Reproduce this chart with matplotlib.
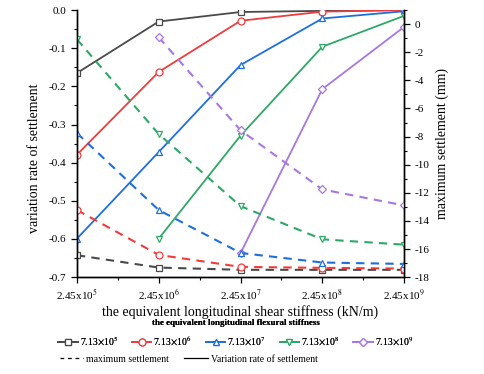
import matplotlib
matplotlib.use("Agg")
import matplotlib.pyplot as plt
from matplotlib.lines import Line2D
from matplotlib.ticker import MultipleLocator
import numpy as np

plt.rcParams['font.family'] = ['Liberation Serif', 'DejaVu Serif']
plt.rcParams['mathtext.fontset'] = 'stix'

x_labels = [r'2.45x10$^5$', r'2.45x10$^6$', r'2.45x10$^7$', r'2.45x10$^8$', r'2.45x10$^9$']
series_labels = [r'7.13$\times$10$^5$', r'7.13$\times$10$^6$', r'7.13$\times$10$^7$',
                 r'7.13$\times$10$^8$', r'7.13$\times$10$^9$']

# variation rate of settlement (left axis); None = no point
rate_713e5 = [-0.165, -0.030, -0.005, -0.002, 0.0]
rate_713e6 = [-0.379, -0.162, -0.028, -0.004, 0.0]
rate_713e7 = [-0.599, -0.372, -0.144, -0.022, -0.003]
rate_713e8 = [None, -0.599, -0.329, -0.096, -0.015]
rate_713e9 = [None, None, -0.637, -0.207, -0.044]

# maximum settlement in mm (right axis)
max_713e5 = [-16.44, -17.32, -17.48, -17.48, -17.48]
max_713e6 = [-13.23, -16.42, -17.27, -17.34, -17.39]
max_713e7 = [-7.75, -13.23, -16.28, -16.96, -17.06]
max_713e8 = [-1.08, -7.82, -12.95, -15.31, -15.69]
max_713e9 = [None, -0.94, -7.55, -11.76, -12.90]

colors = ['#4a4a4a', '#f03c3c', '#1e6fde', '#2ea866', '#a877e0']
markers = ['s', 'o', '^', 'v', 'D']
msizes = [4.5, 5, 5, 5, 4.5]

rates = [rate_713e5, rate_713e6, rate_713e7, rate_713e8, rate_713e9]
maxs = [max_713e5, max_713e6, max_713e7, max_713e8, max_713e9]

fig = plt.figure(figsize=(4.84, 3.74), dpi=100)
ax = fig.add_axes([0.159, 0.259, 0.676, 0.714])
ax2 = ax.twinx()

xi = np.arange(len(x_labels))

def arr(v):
    return np.array([np.nan if a is None else a for a in v], dtype=float)

handles = []
for r, c, m, ms, lab in zip(rates, colors, markers, msizes, series_labels):
    h, = ax.plot(xi, arr(r), color=c, lw=1.3, marker=m, ms=ms, mfc='white',
                 mec=c, mew=0.9, label=lab)
    handles.append(h)

for mx, c, m, ms in zip(maxs, colors, markers, msizes):
    ax2.plot(xi, arr(mx), color=c, lw=1.5, ls=(0, (4, 3)), marker=m, ms=ms,
             mfc='white', mec=c, mew=0.9)

ax.set_xlim(0, 4)
ax.set_ylim(-0.7, 0.0)
ax2.set_ylim(-18, 1)

ax.set_xticks(xi)
ax.set_xticklabels(x_labels, fontsize=8)
ax.xaxis.set_minor_locator(MultipleLocator(0.5))
ax.yaxis.set_major_locator(MultipleLocator(0.1))
ax.yaxis.set_minor_locator(MultipleLocator(0.05))
ax.set_yticklabels([f'{v:.1f}' for v in ax.get_yticks()], fontsize=8)
ax2.yaxis.set_minor_locator(MultipleLocator(1))
ax2.set_yticks(np.arange(-18, 1, 2))
ax2.set_yticklabels([f'{int(v)}' for v in np.arange(-18, 1, 2)], fontsize=8)

for a in (ax, ax2):
    a.spines['top'].set_visible(False)
    a.tick_params(which='major', length=4, width=0.9, direction='out')
    a.tick_params(which='minor', length=2, width=0.8, direction='out')
    for s in a.spines.values():
        s.set_linewidth(1.0)

ax.set_ylabel('variation rate of settlement', fontsize=10)
ax.yaxis.set_label_coords(-0.111, 0.446)
ax2.set_ylabel('maximum settlement (mm)', fontsize=10, labelpad=4)
ax.set_xlabel('the equivalent longitudinal shear stiffness (kN/m)', fontsize=10, labelpad=2)

leg1 = fig.legend(handles=handles, loc='center', bbox_to_anchor=(0.487, 0.109), ncol=5,
                  frameon=False, fontsize=7, handlelength=2.0, handletextpad=0.2,
                  columnspacing=1.45,
                  title='the equivalent longitudinal flexural stiffness',
                  title_fontproperties={'weight': 'bold', 'size': 6.5})
leg1._legend_box.sep = 6

extra = [Line2D([], [], color='black', lw=0.9, ls=(0, (3, 3))),
         Line2D([], [], color='black', lw=0.9)]
leg2 = fig.legend(handles=extra, labels=['maximum settlement', 'Variation rate of settlement'],
                  loc='center left', bbox_to_anchor=(0.105, 0.040), ncol=2, frameon=False,
                  fontsize=7, handlelength=2.4, handletextpad=0.3, columnspacing=1.6)
fig.add_artist(leg1)

fig.savefig('out.png', dpi=100)
